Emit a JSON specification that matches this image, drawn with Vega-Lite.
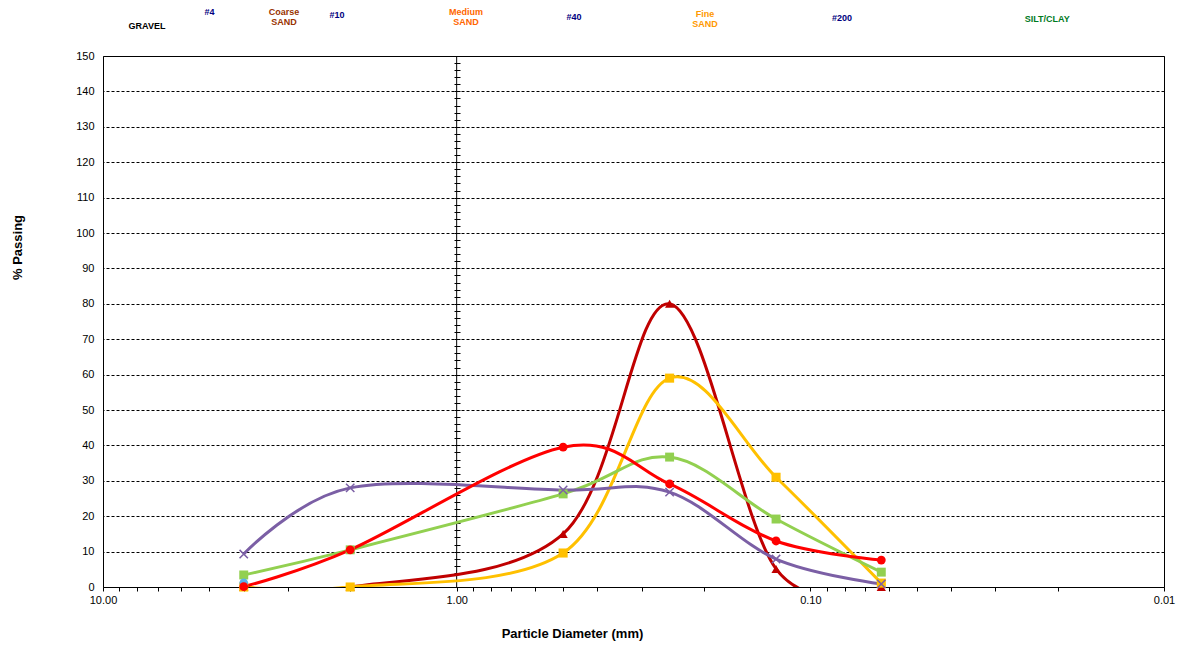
{
  "$schema": "https://vega.github.io/schema/vega-lite/v6.json",
  "width": 1061,
  "height": 531,
  "autosize": {"type": "none"},
  "padding": {"left": 103, "top": 56, "right": 32, "bottom": 80},
  "background": "white",
  "config": {
    "font": "Liberation Sans",
    "view": {"stroke": "#000000", "strokeWidth": 1},
    "axis": {"labelColor": "#000000", "titleColor": "#000000", "labelFont": "Liberation Sans", "titleFont": "Liberation Sans"}
  },
  "datasets": {
    "cross": [{"d": 1}],
    "curves": [
      {"series": "A", "d": 4.0, "p": 0},
      {"series": "A", "d": 2.0, "p": 0},
      {"series": "A", "d": 0.5, "p": 15},
      {"series": "A", "d": 0.25, "p": 80},
      {"series": "A", "d": 0.125, "p": 5.1},
      {"series": "A", "d": 0.063, "p": 0},
      {"series": "B", "d": 4.0, "p": 0},
      {"series": "B", "d": 2.0, "p": 0},
      {"series": "B", "d": 0.5, "p": 9.6},
      {"series": "B", "d": 0.25, "p": 59},
      {"series": "B", "d": 0.125, "p": 31},
      {"series": "B", "d": 0.063, "p": 1.1},
      {"series": "C", "d": 4.0, "p": 3.4},
      {"series": "C", "d": 2.0, "p": 10.5},
      {"series": "C", "d": 0.5, "p": 26.3},
      {"series": "C", "d": 0.25, "p": 36.7},
      {"series": "C", "d": 0.125, "p": 19.2},
      {"series": "C", "d": 0.063, "p": 4.2},
      {"series": "E", "d": 4.0, "p": 9.3},
      {"series": "E", "d": 2.0, "p": 28},
      {"series": "E", "d": 0.5, "p": 27.4},
      {"series": "E", "d": 0.25, "p": 26.8},
      {"series": "E", "d": 0.125, "p": 7.9},
      {"series": "E", "d": 0.063, "p": 0.85},
      {"series": "F", "d": 4.0, "p": 1.2},
      {"series": "D", "d": 4.0, "p": 0.1},
      {"series": "D", "d": 2.0, "p": 10.5},
      {"series": "D", "d": 0.5, "p": 39.5},
      {"series": "D", "d": 0.25, "p": 29.1},
      {"series": "D", "d": 0.125, "p": 13},
      {"series": "D", "d": 0.063, "p": 7.6}
    ],
    "labels": [
      {"label": "GRAVEL", "d": 7.51, "p": 158.6},
      {"label": "#4", "d": 5.0, "p": 162.3},
      {"label": "Coarse\nSAND", "d": 3.08, "p": 162.5},
      {"label": "#10", "d": 2.18, "p": 161.7},
      {"label": "Medium\nSAND", "d": 0.941, "p": 162.5},
      {"label": "#40", "d": 0.466, "p": 161.0},
      {"label": "Fine\nSAND", "d": 0.1985, "p": 161.9},
      {"label": "#200", "d": 0.0814, "p": 160.6},
      {"label": "SILT/CLAY", "d": 0.0214, "p": 160.4}
    ]
  },
  "encoding": {
    "x": {
      "field": "d", "type": "quantitative",
      "scale": {"type": "log", "domain": [0.01, 10], "reverse": true, "nice": false},
      "axis": {
        "orient": "bottom", "title": "Particle Diameter (mm)", "grid": false, "domain": false,
        "values": [10,9,8,7,6,5,4,3,2,1,0.9,0.8,0.7,0.6,0.5,0.4,0.3,0.2,0.1,0.09,0.08,0.07,0.06,0.05,0.04,0.03,0.02,0.01],
        "labelExpr": "indexof([10,1,0.1,0.01], datum.value) >= 0 ? format(datum.value, '.2f') : ''",
        "ticks": true, "tickSize": 4, "tickColor": "#000000", "tickWidth": 1,
        "labelFontSize": 11, "labelPadding": 3, "labelFlush": false, "labelOverlap": false,
        "titleFontSize": 13, "titleFontWeight": "bold", "titleX": 469, "titleY": 46, "titleBaseline": "middle", "titleAlign": "center"
      }
    }
  },
  "resolve": {"axis": {"y": "independent"}},
  "layer": [
    {
      "data": {"name": "cross"},
      "mark": {"type": "rule", "color": "#000000", "strokeWidth": 1},
      "encoding": {
        "y": {
          "datum": 0, "type": "quantitative",
          "scale": {"domain": [0, 150], "nice": false, "zero": false},
          "axis": {
            "orient": "left", "offset": -357, "domain": false, "grid": false, "labels": false, "title": null,
            "ticks": true, "tickSize": 6, "tickWidth": 1, "tickColor": "#000000",
            "values": [0,2,4,6,8,10,12,14,16,18,20,22,24,26,28,30,32,34,36,38,40,42,44,46,48,50,52,54,56,58,60,62,64,66,68,70,72,74,76,78,80,82,84,86,88,90,92,94,96,98,100,102,104,106,108,110,112,114,116,118,120,122,124,126,128,130,132,134,136,138,140,142,144,146,148,150]
          }
        },
        "y2": {"datum": 150}
      }
    },
    {
      "data": {"name": "curves"},
      "mark": {"type": "line", "interpolate": "cardinal", "tension": 0, "strokeWidth": 3, "clip": true},
      "encoding": {
        "y": {
          "field": "p", "type": "quantitative",
          "scale": {"domain": [0, 150], "nice": false, "zero": false},
          "axis": {
            "orient": "left", "title": "% Passing", "values": [0,10,20,30,40,50,60,70,80,90,100,110,120,130,140,150],
            "grid": true, "gridColor": "#000000", "gridDash": [3, 2], "gridWidth": 1,
            "domain": false, "ticks": false, "labelPadding": 9, "labelFontSize": 11,
            "titleFontSize": 13, "titleFontWeight": "bold", "titleX": -86, "titleY": 191, "titleAngle": 270, "titleBaseline": "middle", "titleAlign": "center"
          }
        },
        "color": {
          "field": "series", "type": "nominal",
          "scale": {"domain": ["A", "B", "C", "D", "E", "F"], "range": ["#C00000", "#FFC000", "#92D050", "#FF0000", "#7B5FA5", "#5BB0EA"]},
          "legend": null
        }
      }
    },
    {
      "data": {"name": "curves"},
      "transform": [{"filter": "datum.series !== 'E'"}],
      "mark": {"type": "point", "filled": true, "opacity": 1, "strokeWidth": 0},
      "encoding": {
        "y": {"field": "p", "type": "quantitative", "axis": null},
        "color": {"field": "series", "type": "nominal", "legend": null},
        "shape": {
          "field": "series", "type": "nominal",
          "scale": {"domain": ["A", "B", "C", "D", "F"], "range": ["triangle-up", "square", "square", "circle", "circle"]},
          "legend": null
        },
        "size": {
          "field": "series", "type": "nominal",
          "scale": {"domain": ["A", "B", "C", "D", "F"], "range": [85, 75, 75, 70, 60]},
          "legend": null
        }
      }
    },
    {
      "data": {"name": "curves"},
      "transform": [{"filter": "datum.series === 'E'"}],
      "mark": {"type": "point", "filled": false, "opacity": 1, "strokeWidth": 1.5, "shape": "M-1,-1L1,1M-1,1L1,-1", "size": 70},
      "encoding": {
        "y": {"field": "p", "type": "quantitative", "axis": null},
        "color": {"field": "series", "type": "nominal", "legend": null}
      }
    },
    {
      "data": {"name": "labels"},
      "mark": {"type": "text", "fontWeight": "bold", "fontSize": 9, "lineBreak": "\n", "lineHeight": 10, "align": "center", "baseline": "middle"},
      "encoding": {
        "y": {"field": "p", "type": "quantitative", "axis": null},
        "text": {"field": "label"},
        "fill": {
          "field": "label", "type": "nominal",
          "scale": {
            "domain": ["GRAVEL", "#4", "Coarse\nSAND", "#10", "Medium\nSAND", "#40", "Fine\nSAND", "#200", "SILT/CLAY"],
            "range": ["#000000", "#000080", "#993300", "#000080", "#FF6600", "#000080", "#FF9900", "#000080", "#007A1E"]
          },
          "legend": null
        }
      }
    }
  ]
}
